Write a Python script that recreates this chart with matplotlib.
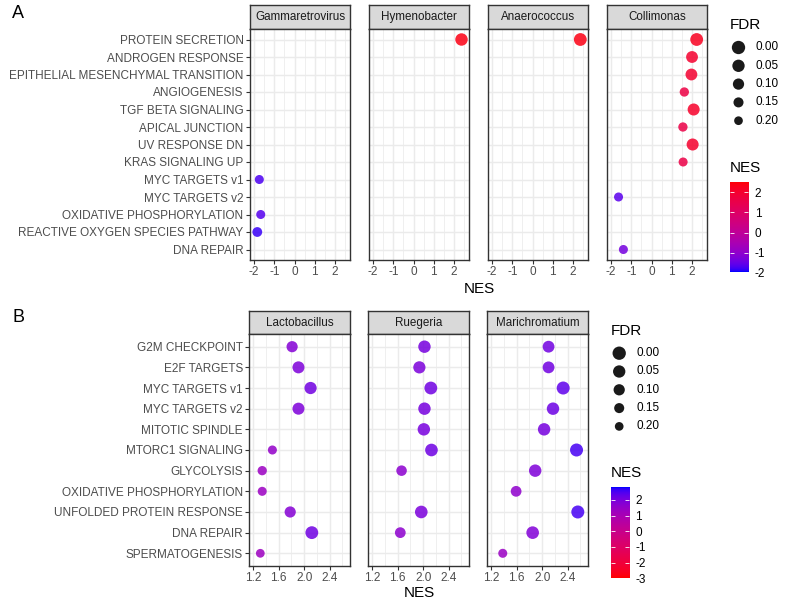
import numpy as np
import matplotlib
matplotlib.use("Agg")
import matplotlib.pyplot as plt
from matplotlib.colors import ListedColormap, Normalize

plt.rcParams['font.family'] = ['Liberation Sans', 'DejaVu Sans']

nan = np.nan

# ---- panel A data ----
pathways_a = ["PROTEIN SECRETION", "ANDROGEN RESPONSE", "EPITHELIAL MESENCHYMAL TRANSITION",
              "ANGIOGENESIS", "TGF BETA SIGNALING", "APICAL JUNCTION", "UV RESPONSE DN",
              "KRAS SIGNALING UP", "MYC TARGETS v1", "MYC TARGETS v2",
              "OXIDATIVE PHOSPHORYLATION", "REACTIVE OXYGEN SPECIES PATHWAY", "DNA REPAIR"]
taxa_a = ["Gammaretrovirus", "Hymenobacter", "Anaerococcus", "Collimonas"]

nes_gammaretrovirus = [nan, nan, nan, nan, nan, nan, nan, nan, -1.74, nan, -1.67, -1.84, nan]
fdr_gammaretrovirus = [nan, nan, nan, nan, nan, nan, nan, nan, 0.18, nan, 0.18, 0.15, nan]
nes_hymenobacter = [2.37, nan, nan, nan, nan, nan, nan, nan, nan, nan, nan, nan, nan]
fdr_hymenobacter = [0.03, nan, nan, nan, nan, nan, nan, nan, nan, nan, nan, nan, nan]
nes_anaerococcus = [2.36, nan, nan, nan, nan, nan, nan, nan, nan, nan, nan, nan, nan]
fdr_anaerococcus = [0.01, nan, nan, nan, nan, nan, nan, nan, nan, nan, nan, nan, nan]
nes_collimonas = [2.23, 2.0, 1.97, 1.62, 2.08, 1.55, 2.03, 1.56, nan, -1.63, nan, nan, -1.39]
fdr_collimonas = [0.01, 0.06, 0.06, 0.17, 0.05, 0.17, 0.05, 0.18, nan, 0.18, nan, nan, 0.18]

# ---- panel B data ----
pathways_b = ["G2M CHECKPOINT", "E2F TARGETS", "MYC TARGETS v1", "MYC TARGETS v2",
              "MITOTIC SPINDLE", "MTORC1 SIGNALING", "GLYCOLYSIS", "OXIDATIVE PHOSPHORYLATION",
              "UNFOLDED PROTEIN RESPONSE", "DNA REPAIR", "SPERMATOGENESIS"]
taxa_b = ["Lactobacillus", "Ruegeria", "Marichromatium"]

nes_lactobacillus = [1.81, 1.91, 2.10, 1.91, nan, 1.50, 1.34, 1.34, 1.78, 2.12, 1.31]
fdr_lactobacillus = [0.09, 0.05, 0.04, 0.05, nan, 0.18, 0.17, 0.18, 0.09, 0.01, 0.19]
nes_ruegeria = [2.02, 1.94, 2.12, 2.02, 2.01, 2.13, 1.66, nan, 1.97, 1.64, nan]
fdr_ruegeria = [0.03, 0.04, 0.01, 0.03, 0.03, 0.02, 0.12, nan, 0.02, 0.11, nan]
nes_marichromatium = [2.10, 2.10, 2.33, 2.17, 2.03, 2.54, 1.89, 1.59, 2.56, 1.85, 1.38]
fdr_marichromatium = [0.06, 0.06, 0.0, 0.03, 0.03, 0.0, 0.03, 0.11, 0.0, 0.02, 0.18]

fdr_breaks = [0.00, 0.05, 0.10, 0.15, 0.20]

W, H = 785, 604
GRID = '#EBEBEB'
DARK = '#333333'
TXT = 8.5
STRIP = 8.4


def hex_rgb(h):
    return np.array([int(h[i:i + 2], 16) for i in (1, 3, 5)]) / 255.0


M = np.array([[0.4124564, 0.3575761, 0.1804375],
              [0.2126729, 0.7151522, 0.0721750],
              [0.0193339, 0.1191920, 0.9503041]])
WHITE = np.array([0.95047, 1.0, 1.08883])


def rgb_to_lab(rgb):
    lin = np.where(rgb <= 0.04045, rgb / 12.92, ((rgb + 0.055) / 1.055) ** 2.4)
    t = (M @ lin) / WHITE
    d = 6 / 29
    f = np.where(t > d ** 3, np.cbrt(t), t / (3 * d * d) + 4 / 29)
    return np.array([116 * f[1] - 16, 500 * (f[0] - f[1]), 200 * (f[1] - f[2])])


def lab_to_rgb(lab):
    L, a, b = lab
    fy = (L + 16) / 116
    fx = fy + a / 500
    fz = fy - b / 200
    d = 6 / 29
    f = np.array([fx, fy, fz])
    t = np.where(f > d, f ** 3, 3 * d * d * (f - 4 / 29)) * WHITE
    lin = np.clip(np.linalg.solve(M, t), 0, 1)
    rgb = np.where(lin <= 0.0031308, 12.92 * lin, 1.055 * lin ** (1 / 2.4) - 0.055)
    return np.clip(rgb, 0, 1)


def lab_cmap(low, high, n=256):
    # ggplot-style gradient: interpolate in Lab space
    l0, l1 = rgb_to_lab(hex_rgb(low)), rgb_to_lab(hex_rgb(high))
    cols = [lab_to_rgb(l0 + (l1 - l0) * t) for t in np.linspace(0, 1, n)]
    return ListedColormap(cols)


def px_axes(fig, left, top, width, height):
    return fig.add_axes([left / W, 1 - (top + height) / H, width / W, height / H])


def dot_size(fdr):
    # diameter in px shrinks with FDR; convert to points^2
    return (169 - 485 * np.asarray(fdr, dtype=float)) * 0.5184


def draw_facet(fig, left, top, width, strip_h, panel_h, name, labels, nes, fdr,
               cmap, norm, xlim, major, minor, fmt, show_y):
    st = px_axes(fig, left, top, width, strip_h)
    st.set_facecolor('#D9D9D9')
    st.set_xticks([]); st.set_yticks([])
    for s in st.spines.values():
        s.set_color(DARK); s.set_linewidth(1.0)
    st.text(0.5, 0.48, name, ha='center', va='center', fontsize=STRIP, color='#1A1A1A',
            transform=st.transAxes)

    ax = px_axes(fig, left, top + strip_h, width, panel_h)
    n = len(labels)
    ax.set_xlim(*xlim)
    ax.set_ylim(n - 1 + 0.6, -0.6)
    for v in minor:
        ax.axvline(v, color=GRID, lw=0.55, zorder=0)
    for v in major:
        ax.axvline(v, color=GRID, lw=1.05, zorder=0)
    for i in range(n):
        ax.axhline(i, color=GRID, lw=1.05, zorder=0)

    x = np.asarray(nes, dtype=float)
    f = np.asarray(fdr, dtype=float)
    y = np.arange(n)
    ok = ~np.isnan(x)
    ax.scatter(x[ok], y[ok], s=dot_size(f[ok]), c=x[ok], cmap=cmap, norm=norm,
               edgecolors='none', alpha=0.85, zorder=3)

    for s in ax.spines.values():
        s.set_color(DARK); s.set_linewidth(1.0)
    ax.set_xticks(major)
    ax.set_xticklabels([fmt % v for v in major])
    ax.tick_params(axis='x', length=2.6, width=0.8, color=DARK, pad=1.6,
                   labelsize=TXT, labelcolor='#4D4D4D')
    ax.set_yticks(y)
    if show_y:
        ax.set_yticklabels(labels)
        ax.tick_params(axis='y', length=2.6, width=0.8, color=DARK, pad=2.0,
                       labelsize=TXT, labelcolor='#4D4D4D')
    else:
        ax.set_yticklabels([])
        ax.tick_params(axis='y', length=0)
    return ax


def draw_legend(fig, x0, fdr_top, nes_top, cbar_top, cbar_h, cmap, norm, cticks, overlay):
    fig.text(x0 / W, 1 - fdr_top / H, 'FDR', fontsize=11, ha='left', va='center')
    for k, b in enumerate(fdr_breaks):
        yy = fdr_top + 22.5 + k * 18.3
        overlay.scatter([x0 + 8.5], [yy], s=dot_size(b) * 1.05, color='#1A1A1A',
                        edgecolors='none')
        fig.text((x0 + 25.5) / W, 1 - yy / H, '%.2f' % b, fontsize=TXT,
                 ha='left', va='center')
    fig.text(x0 / W, 1 - nes_top / H, 'NES', fontsize=11, ha='left', va='center')
    cax = px_axes(fig, x0, cbar_top, 18.3, cbar_h)
    grad = np.linspace(norm.vmin, norm.vmax, 300).reshape(-1, 1)
    cax.imshow(grad, aspect='auto', cmap=cmap, norm=norm, origin='lower',
               extent=[0, 1, norm.vmin, norm.vmax])
    cax.set_xlim(0, 1)
    cax.set_ylim(norm.vmin, norm.vmax)
    for s in cax.spines.values():
        s.set_visible(False)
    cax.set_xticks([])
    cax.set_yticks(cticks)
    cax.set_yticklabels(['%g' % t for t in cticks])
    cax.tick_params(axis='y', direction='in', left=True, right=True, labelleft=False,
                    labelright=True, color='white', length=2.6, width=0.6, pad=4.5,
                    labelsize=TXT)


fig = plt.figure(figsize=(W / 100, H / 100), dpi=100)
overlay = fig.add_axes([0, 0, 1, 1], zorder=-1)
overlay.set_xlim(0, W); overlay.set_ylim(H, 0)
overlay.axis('off')

# ---- panel A ----
cmap_a = lab_cmap('#0000FF', '#FF0000')
norm_a = Normalize(-1.98, 2.53)
facets_a = [(nes_gammaretrovirus, fdr_gammaretrovirus), (nes_hymenobacter, fdr_hymenobacter),
            (nes_anaerococcus, fdr_anaerococcus), (nes_collimonas, fdr_collimonas)]
for i, (name, (nes, fdr)) in enumerate(zip(taxa_a, facets_a)):
    draw_facet(fig, 250 + i * 119, 5, 100, 24, 231, name, pathways_a, nes, fdr,
               cmap_a, norm_a, (-2.2, 2.74), [-2, -1, 0, 1, 2],
               [-1.5, -0.5, 0.5, 1.5, 2.5], '%g', i == 0)
fig.text(479 / W, 1 - 289 / H, 'NES', fontsize=11, ha='center', va='center')
fig.text(12 / W, 1 - 13 / H, 'A', fontsize=13, ha='left', va='center')
draw_legend(fig, 730, 25, 167.5, 181.7, 91, cmap_a, norm_a, [-2, -1, 0, 1, 2], overlay)

# ---- panel B ----
cmap_b = lab_cmap('#FF0000', '#0000FF')
norm_b = Normalize(-3.0, 2.81)
facets_b = [(nes_lactobacillus, fdr_lactobacillus), (nes_ruegeria, fdr_ruegeria),
            (nes_marichromatium, fdr_marichromatium)]
for i, (name, (nes, fdr)) in enumerate(zip(taxa_b, facets_b)):
    draw_facet(fig, 249.3 + i * 119, 311, 100.5, 23.3, 231.4, name, pathways_b, nes, fdr,
               cmap_b, norm_b, (1.137, 2.717), [1.2, 1.6, 2.0, 2.4],
               [1.4, 1.8, 2.2, 2.6], '%.1f', i == 0)
fig.text(419 / W, 1 - 593 / H, 'NES', fontsize=11, ha='center', va='center')
fig.text(12 / W, 1 - 318 / H, 'B', fontsize=13, ha='left', va='center')
draw_legend(fig, 610.7, 330.7, 473.3, 487.3, 91, cmap_b, norm_b, [-3, -2, -1, 0, 1, 2], overlay)

fig.savefig('out.png', dpi=100)
